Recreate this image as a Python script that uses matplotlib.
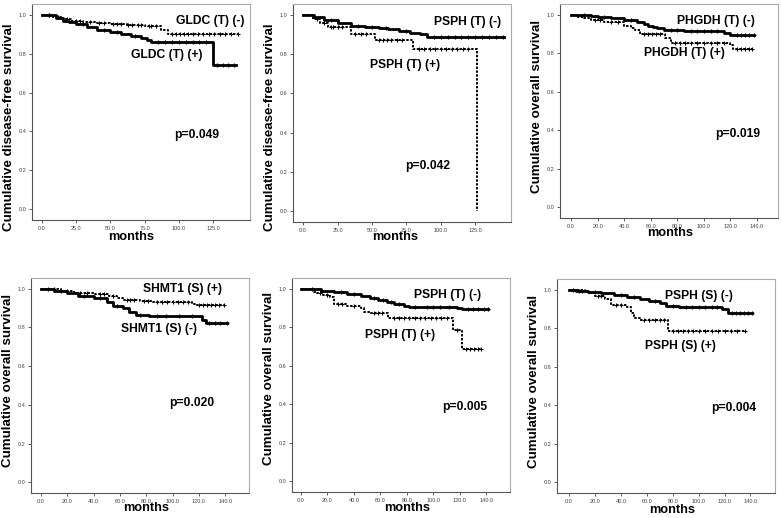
import numpy as np
import matplotlib
matplotlib.use("Agg")
import matplotlib.pyplot as plt

plt.rcParams['font.family'] = ['Liberation Sans', 'DejaVu Sans']

# ---------------------------------------------------
# Kaplan-Meier step data (time in months, survival)
# ---------------------------------------------------

# GLDC (T) - disease-free
gldc_neg_t = [0, 8, 15, 22, 30, 40, 50, 62, 75, 87, 92, 143]
gldc_neg_s = [1.0, 0.99, 0.98, 0.97, 0.96, 0.955, 0.95, 0.945, 0.94, 0.92, 0.90, 0.90]
gldc_neg_c = [5, 12, 18, 25, 28, 35, 42, 45, 52, 55, 58, 63, 66, 70, 72, 78, 80, 83, 95, 98, 101, 104, 107, 110, 114, 118, 122, 126, 130, 134, 138, 143]
gldc_pos_t = [0, 10, 15, 20, 25, 33, 40, 50, 58, 65, 72, 77, 80, 125, 142]
gldc_pos_s = [1.0, 0.985, 0.97, 0.96, 0.95, 0.935, 0.92, 0.91, 0.90, 0.89, 0.88, 0.87, 0.862, 0.74, 0.74]
gldc_pos_c = [5, 30, 45, 55, 68, 85, 90, 95, 100, 105, 110, 115, 120, 128, 132, 136, 140]

# PSPH (T) - disease-free
psph1_neg_t = [0, 8, 15, 25, 35, 45, 55, 62, 70, 78, 85, 90, 146]
psph1_neg_s = [1.0, 0.99, 0.975, 0.96, 0.945, 0.94, 0.935, 0.93, 0.92, 0.91, 0.90, 0.885, 0.885]
psph1_neg_c = [20, 40, 50, 60, 75, 95, 100, 105, 110, 115, 120, 125, 130, 135, 140, 145]
psph1_pos_t = [0, 7, 12, 18, 35, 52, 80, 126]
psph1_pos_s = [1.0, 0.98, 0.96, 0.94, 0.90, 0.872, 0.826, 0.0]
psph1_pos_c = [10, 15, 20, 22, 25, 28, 38, 42, 46, 55, 58, 61, 64, 68, 72, 84, 88, 92, 96, 100, 104, 108, 112, 116, 120]

# PHGDH (T) - overall
phgdh_neg_t = [0, 15, 20, 30, 40, 50, 55, 58, 62, 65, 70, 85, 115, 120, 138]
phgdh_neg_s = [1.0, 0.995, 0.99, 0.98, 0.97, 0.96, 0.95, 0.94, 0.935, 0.93, 0.92, 0.915, 0.905, 0.893, 0.893]
phgdh_neg_c = [10, 25, 45, 75, 80, 90, 95, 100, 105, 110, 125, 128, 131, 134, 138]
phgdh_pos_t = [0, 5, 10, 15, 25, 40, 45, 48, 52, 71, 75, 120, 122, 136]
phgdh_pos_s = [1.0, 0.99, 0.98, 0.97, 0.96, 0.94, 0.93, 0.92, 0.898, 0.88, 0.855, 0.84, 0.82, 0.82]
phgdh_pos_c = [18, 22, 30, 35, 55, 58, 61, 64, 67, 78, 82, 86, 90, 95, 100, 105, 110, 115, 125, 128, 131, 134, 136]

# SHMT1 (S) - overall
shmt_pos_t = [0, 15, 25, 40, 52, 58, 62, 75, 85, 115, 118, 139]
shmt_pos_s = [1.0, 0.99, 0.98, 0.97, 0.96, 0.95, 0.941, 0.935, 0.931, 0.92, 0.916, 0.916]
shmt_pos_c = [10, 20, 30, 35, 45, 48, 55, 65, 68, 71, 78, 81, 88, 92, 96, 100, 104, 108, 112, 120, 123, 126, 129, 132, 135, 139]
shmt_neg_t = [0, 10, 20, 28, 40, 50, 55, 62, 67, 72, 82, 122, 125, 141]
shmt_neg_s = [1.0, 0.99, 0.98, 0.96, 0.95, 0.93, 0.91, 0.90, 0.88, 0.866, 0.858, 0.84, 0.822, 0.822]
shmt_neg_c = [5, 15, 33, 45, 58, 75, 88, 95, 105, 115, 128, 132, 136, 141]

# PSPH (T) - overall
psph2_neg_t = [0, 15, 25, 35, 45, 52, 58, 65, 70, 78, 82, 118, 122, 141]
psph2_neg_s = [1.0, 0.99, 0.98, 0.97, 0.96, 0.95, 0.94, 0.93, 0.92, 0.91, 0.905, 0.90, 0.894, 0.894]
psph2_neg_c = [8, 30, 40, 55, 62, 68, 74, 86, 95, 100, 105, 112, 126, 130, 134, 138, 141]
psph2_pos_t = [0, 10, 12, 17, 22, 25, 35, 45, 48, 52, 66, 115, 122, 136]
psph2_pos_s = [1.0, 0.985, 0.975, 0.965, 0.955, 0.92, 0.91, 0.90, 0.88, 0.875, 0.848, 0.785, 0.685, 0.685]
psph2_pos_c = [14, 20, 28, 31, 40, 55, 58, 61, 70, 74, 78, 82, 86, 90, 94, 98, 102, 106, 110, 118, 125, 128, 131, 134, 136]

# PSPH (S) - overall
psph3_neg_t = [0, 5, 15, 25, 35, 45, 55, 62, 70, 75, 85, 118, 123, 141]
psph3_neg_s = [1.0, 0.995, 0.99, 0.98, 0.97, 0.96, 0.95, 0.94, 0.93, 0.915, 0.91, 0.90, 0.879, 0.879]
psph3_neg_c = [3, 8, 10, 20, 40, 50, 66, 80, 90, 95, 100, 105, 110, 114, 126, 129, 132, 135, 138, 141]
psph3_pos_t = [0, 12, 15, 20, 28, 32, 45, 48, 50, 55, 76, 136]
psph3_pos_s = [1.0, 0.99, 0.98, 0.966, 0.95, 0.922, 0.91, 0.88, 0.853, 0.84, 0.786, 0.786]
psph3_pos_c = [22, 25, 36, 40, 58, 62, 66, 70, 73, 80, 84, 88, 92, 96, 100, 105, 110, 115, 120, 125, 130, 136]

# ---------------------------------------------------

def step_value(times, surv, t):
    idx = np.searchsorted(times, t, side='right') - 1
    return np.asarray(surv)[idx]


def draw_curve(ax, times, surv, cens, dashed):
    if dashed:
        ax.step(times, surv, where='post', color='black', lw=1.4,
                linestyle=(0, (1.2, 0.8)))
        ax.plot(cens, step_value(times, surv, cens), '+', color='black',
                ms=2.8, mew=0.8)
    else:
        ax.step(times, surv, where='post', color='black', lw=2.0)
        ax.plot(cens, step_value(times, surv, cens), '+', color='black',
                ms=3.2, mew=0.9)


fig = plt.figure(figsize=(7.82, 5.18), dpi=100)

panels = [
    # rect, ylabel, ylab_y, xlab_xy, xticks, xlim
    ([0.0409, 0.5753, 0.2788, 0.4170], "Cumulative disease-free survival", 0.43, (0.454, -0.079),
     [0, 25, 50, 75, 100, 125], (-7.3, 152)),
    ([0.3747, 0.5714, 0.2788, 0.4208], "Cumulative disease-free survival", 0.436, (0.47, -0.069),
     [0, 25, 50, 75, 100, 125], (-7.3, 151)),
    ([0.7161, 0.5792, 0.2788, 0.4131], "Cumulative overall survival", 0.52, (0.505, -0.07),
     [0, 20, 40, 60, 80, 100, 120, 140], (-8.3, 155.8)),
    ([0.0396, 0.0483, 0.2788, 0.4150], "Cumulative overall survival", 0.525, (0.53, -0.07),
     [0, 20, 40, 60, 80, 100, 120, 140], (-7.6, 158)),
    ([0.3734, 0.0502, 0.2788, 0.4131], "Cumulative overall survival", 0.53, (0.53, -0.075),
     [0, 20, 40, 60, 80, 100, 120, 140], (-6.8, 158)),
    ([0.7123, 0.0483, 0.2788, 0.4131], "Cumulative overall survival", 0.52, (0.53, -0.08),
     [0, 20, 40, 60, 80, 100, 120, 140], (-9.3, 159)),
]

curves = [
    [(gldc_neg_t, gldc_neg_s, gldc_neg_c, True), (gldc_pos_t, gldc_pos_s, gldc_pos_c, False)],
    [(psph1_neg_t, psph1_neg_s, psph1_neg_c, False), (psph1_pos_t, psph1_pos_s, psph1_pos_c, True)],
    [(phgdh_neg_t, phgdh_neg_s, phgdh_neg_c, False), (phgdh_pos_t, phgdh_pos_s, phgdh_pos_c, True)],
    [(shmt_pos_t, shmt_pos_s, shmt_pos_c, True), (shmt_neg_t, shmt_neg_s, shmt_neg_c, False)],
    [(psph2_neg_t, psph2_neg_s, psph2_neg_c, False), (psph2_pos_t, psph2_pos_s, psph2_pos_c, True)],
    [(psph3_neg_t, psph3_neg_s, psph3_neg_c, False), (psph3_pos_t, psph3_pos_s, psph3_pos_c, True)],
]

# text labels: (text, x, y) in data coordinates
labels = [
    [("GLDC (T) (-)", 123, 0.966), ("GLDC (T) (+)", 91.5, 0.794), ("p=0.049", 113, 0.382)],
    [("PSPH (T) (-)", 119.4, 0.966), ("PSPH (T) (+)", 74, 0.744), ("p=0.042", 90.8, 0.228)],
    [("PHGDH (T) (-)", 109, 0.967), ("PHGDH (T) (+)", 85, 0.799), ("p=0.019", 125.8, 0.38)],
    [("SHMT1 (S) (+)", 107.8, 0.997), ("SHMT1 (S) (-)", 90, 0.793), ("p=0.020", 114.7, 0.41)],
    [("PSPH (T) (-)", 111, 0.967), ("PSPH (T) (+)", 75, 0.758), ("p=0.005", 124, 0.386)],
    [("PSPH (S) (-)", 100.5, 0.969), ("PSPH (S) (+)", 86, 0.707), ("p=0.004", 127, 0.388)],
]

yticks = [0.0, 0.2, 0.4, 0.6, 0.8, 1.0]

for (rect, ylab, ylab_y, xlab_xy, xt, xl), cset, lset in zip(panels, curves, labels):
    ax = fig.add_axes(rect)
    for times, surv, cens, dashed in cset:
        draw_curve(ax, times, surv, cens, dashed)
    for txt, x, y in lset:
        ax.text(x, y, txt, ha='center', va='center', fontsize=8.7, fontweight='bold')

    ax.set_xlim(*xl)
    ax.set_ylim(-0.055, 1.055)
    ax.set_xticks(xt)
    ax.set_xticklabels([f"{v:.1f}" for v in xt])
    ax.set_yticks(yticks)
    ax.set_yticklabels([f"{v:.1f}" for v in yticks])
    ax.tick_params(labelsize=4, labelcolor='#444444', length=2, width=0.6,
                   color='#444444', pad=2)
    ax.spines['left'].set_color('#555555')
    ax.spines['bottom'].set_color('#555555')
    ax.spines['top'].set_color('#aaaaaa')
    ax.spines['right'].set_color('#aaaaaa')
    for sp in ax.spines.values():
        sp.set_linewidth(0.8)

    ax.set_ylabel(ylab, fontsize=9.6, fontweight='bold', va='center')
    ax.yaxis.set_label_coords(-0.105, ylab_y)
    ax.set_xlabel("months", fontsize=9.2, fontweight='bold', va='center')
    ax.xaxis.set_label_coords(*xlab_xy)

fig.savefig("out.png", dpi=100)
